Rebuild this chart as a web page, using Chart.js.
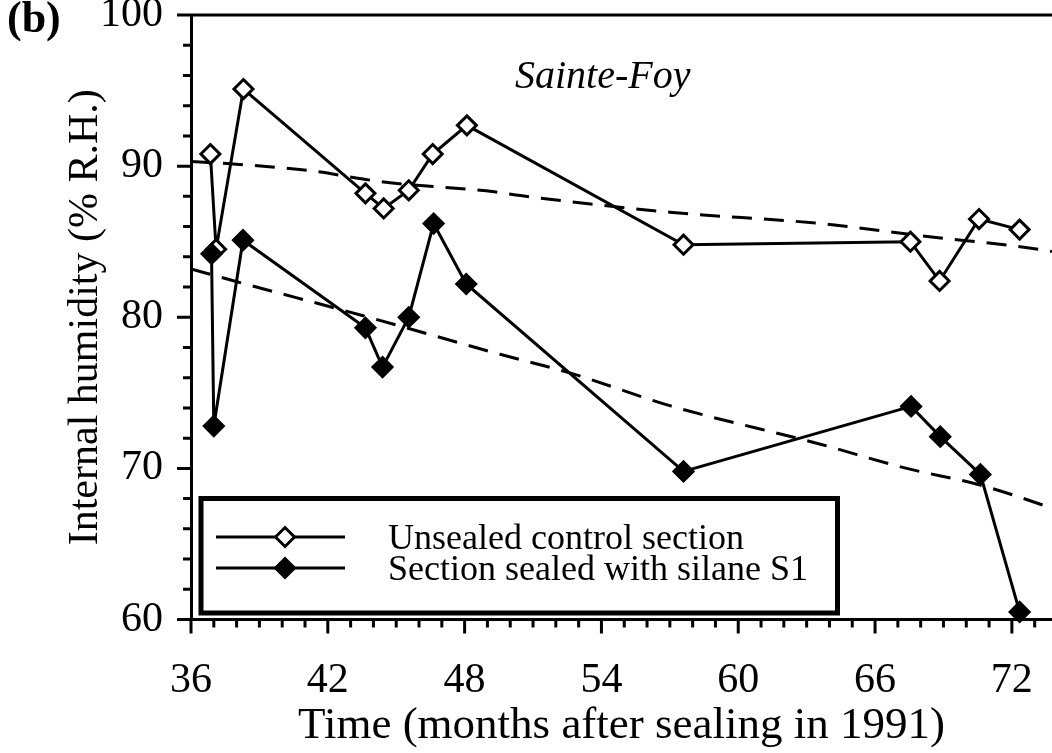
<!DOCTYPE html>
<html>
<head>
<meta charset="utf-8">
<title>Internal humidity - Sainte-Foy</title>
<script src="https://cdn.jsdelivr.net/npm/chart.js"></script>
<style>
  html, body { margin: 0; padding: 0; background: #fff; }
  #wrap { width: 1052px; height: 753px; }
</style>
</head>
<body>
<div id="wrap"><canvas id="humidityChart" width="1052" height="753"></canvas></div>
<script>
// Values (months after sealing, % R.H.)
const unsealedMonths = [36.85, 37.1, 38.3, 43.65, 44.45, 45.55, 46.6, 48.1, 57.6, 67.55, 68.83, 70.56, 72.34];
const unsealedRH     = [90.8, 84.5, 95.1, 88.2, 87.2, 88.4, 90.8, 92.7, 84.8, 85.0, 82.4, 86.5, 85.8];

const sealedMonths = [36.9, 37.0, 38.28, 43.65, 44.4, 45.55, 46.64, 48.07, 57.6, 67.58, 68.86, 70.62, 72.34];
const sealedRH     = [84.2, 72.8, 85.1, 79.3, 76.7, 80.0, 86.2, 82.2, 69.8, 74.1, 72.1, 69.6, 60.5];

// dashed trend curves
const unsealedTrendMonths = [36, 37.75, 41.2, 44.45, 49.3, 50.45, 57.0, 63.6, 68.0, 73.4, 73.76];
const unsealedTrendRH     = [90.3, 90.15, 89.7, 88.95, 88.3, 88.05, 86.95, 86.2, 85.4, 84.45, 84.35];

const sealedTrendMonths = [36, 37.9, 43.55, 49.55, 52.65, 57.0, 63.6, 67.25, 70.6, 73.4, 73.76];
const sealedTrendRH     = [83.2, 82.4, 80.1, 77.55, 76.3, 74.15, 71.6, 70.05, 68.9, 67.55, 67.35];

const seriesLabels = ['Section sealed with silane S1', 'Unsealed control section'];

// axis ticks
const xTickLabels = [36, 42, 48, 54, 60, 66, 72];
const yTickLabels = [60, 70, 80, 90, 100];
const xMinorStep = 1;
const yMinorStep = 2;

const serif = "'Liberation Serif', 'Times New Roman', serif";
const majorTick = 14;
const minorTick = 8;

function toPoints(xs, ys) {
    return xs.map((x, i) => ({ x: x, y: ys[i] }));
}

// keep the plot area where the figure has it (no room reserved for edge labels)
function noEdgePadding(scale) {
    scale.paddingTop = 0;
    scale.paddingBottom = 0;
    scale.paddingLeft = 0;
    scale.paddingRight = 0;
}

// Outward ticks (major + minor) and the top frame line
const frameTicks = {
    id: 'frameTicks',
    afterDraw(chart) {
        const { ctx, chartArea: a, scales: { x, y } } = chart;
        ctx.save();
        ctx.strokeStyle = '#000';
        ctx.lineWidth = 3;
        ctx.beginPath();
        ctx.moveTo(a.left - majorTick, a.top);
        ctx.lineTo(a.right, a.top);
        for (let v = y.min; v <= y.max + 1e-6; v += yMinorStep) {
            const py = y.getPixelForValue(v);
            const len = yTickLabels.includes(v) ? majorTick : minorTick;
            ctx.moveTo(a.left, py);
            ctx.lineTo(a.left - len, py);
        }
        for (let v = x.min; v <= x.max; v += xMinorStep) {
            const px = x.getPixelForValue(v);
            const len = xTickLabels.includes(v) ? majorTick : minorTick;
            ctx.moveTo(px, a.bottom);
            ctx.lineTo(px, a.bottom + len);
        }
        ctx.stroke();
        ctx.restore();
    }
};

// Panel letter, site name and the boxed legend
const annotations = {
    id: 'annotations',
    afterDraw(chart) {
        const ctx = chart.ctx;
        ctx.save();
        ctx.fillStyle = '#000';
        ctx.textBaseline = 'middle';
        ctx.textAlign = 'left';
        ctx.font = 'bold 44px ' + serif;
        ctx.fillText('(b)', 7, 21);

        ctx.textBaseline = 'alphabetic';
        ctx.font = 'italic 40px ' + serif;
        ctx.fillText('Sainte-Foy', 515, 88);

        // legend box
        const box = { left: 201, top: 498.5, right: 837.5, bottom: 613 };
        ctx.fillStyle = '#fff';
        ctx.fillRect(box.left, box.top, box.right - box.left, box.bottom - box.top);
        ctx.strokeStyle = '#000';
        ctx.lineWidth = 5;
        ctx.strokeRect(box.left, box.top, box.right - box.left, box.bottom - box.top);

        // unsealed first, then sealed (as in the original)
        const rows = [chart.data.datasets[1], chart.data.datasets[0]];
        const rowY = [537, 568];
        ctx.font = '36px ' + serif;
        ctx.textBaseline = 'middle';
        rows.forEach((ds, i) => {
            const yy = rowY[i];
            ctx.lineWidth = 3;
            ctx.strokeStyle = '#000';
            ctx.beginPath();
            ctx.moveTo(216, yy);
            ctx.lineTo(345, yy);
            ctx.stroke();
            const r = ds.pointRadius;
            ctx.beginPath();
            ctx.moveTo(285 - r, yy);
            ctx.lineTo(285, yy - r);
            ctx.lineTo(285 + r, yy);
            ctx.lineTo(285, yy + r);
            ctx.closePath();
            ctx.fillStyle = ds.pointBackgroundColor;
            ctx.fill();
            ctx.stroke();
            ctx.fillStyle = '#000';
            ctx.fillText(ds.label, 388, yy + 3);
        });
        ctx.restore();
    }
};

const ctx = document.getElementById('humidityChart');
const humidityChart = new Chart(ctx, {
    type: 'line',
    data: {
        datasets: [{
            label: seriesLabels[0],
            data: toPoints(sealedMonths, sealedRH),
            borderColor: '#000',
            borderWidth: 3,
            pointStyle: 'rectRot',
            pointRadius: 9.5,
            pointBorderWidth: 3,
            pointBackgroundColor: '#000',
            pointBorderColor: '#000',
            tension: 0,
            clip: false,
            order: 0
        }, {
            label: seriesLabels[1],
            data: toPoints(unsealedMonths, unsealedRH),
            borderColor: '#000',
            borderWidth: 3,
            pointStyle: 'rectRot',
            pointRadius: 9.5,
            pointBorderWidth: 3,
            pointBackgroundColor: '#fff',
            pointBorderColor: '#000',
            tension: 0,
            clip: false,
            order: 1
        }, {
            label: 'Unsealed trend',
            data: toPoints(unsealedTrendMonths, unsealedTrendRH),
            borderColor: '#000',
            borderWidth: 3,
            borderDash: [20, 12],
            pointRadius: 0,
            cubicInterpolationMode: 'monotone',
            order: 2
        }, {
            label: 'Sealed trend',
            data: toPoints(sealedTrendMonths, sealedTrendRH),
            borderColor: '#000',
            borderWidth: 3,
            borderDash: [20, 12],
            pointRadius: 0,
            cubicInterpolationMode: 'monotone',
            order: 3
        }]
    },
    options: {
        responsive: false,
        animation: false,
        events: [],
        layout: { autoPadding: false, padding: { top: 15, right: 0, bottom: 0, left: 0 } },
        plugins: {
            legend: { display: false },
            tooltip: { enabled: false }
        },
        scales: {
            x: {
                type: 'linear',
                min: 36,
                max: 73.76,
                grid: { display: false, drawTicks: false },
                border: { display: true, color: '#000', width: 3 },
                ticks: { color: '#000', autoSkip: false, maxRotation: 0, padding: 36, font: { family: serif, size: 42 } },
                afterBuildTicks: scale => { scale.ticks = xTickLabels.map(v => ({ value: v })); },
                afterFit: scale => { scale.height = 133.5; noEdgePadding(scale); },
                title: {
                    display: true,
                    text: 'Time (months after sealing in 1991)',
                    color: '#000',
                    font: { family: serif, size: 45 },
                    padding: { top: 0, bottom: 0 }
                }
            },
            y: {
                type: 'linear',
                min: 60,
                max: 100,
                grid: { display: false, drawTicks: false },
                border: { display: true, color: '#000', width: 3 },
                ticks: { color: '#000', autoSkip: false, padding: 28, font: { family: serif, size: 42 } },
                afterBuildTicks: scale => { scale.ticks = yTickLabels.map(v => ({ value: v })); },
                afterFit: scale => { scale.width = 191; noEdgePadding(scale); },
                title: {
                    display: true,
                    text: 'Internal humidity (% R.H.)',
                    color: '#000',
                    font: { family: serif, size: 42 },
                    padding: { top: 61, bottom: 0 }
                }
            }
        }
    },
    plugins: [frameTicks, annotations]
});
</script>
</body>
</html>
